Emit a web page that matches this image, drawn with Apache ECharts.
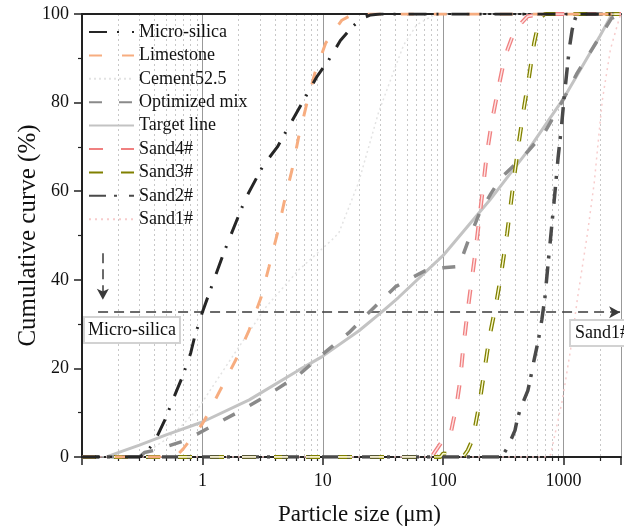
<!DOCTYPE html>
<html>
<head>
<meta charset="utf-8">
<script src="https://cdn.jsdelivr.net/npm/echarts@6/dist/echarts.min.js"></script>
<style>
html, body { margin: 0; padding: 0; background: #fff; }
#chart { width: 624px; height: 532px; }
</style>
</head>
<body>
<div id="chart"></div>
<script>
// particle size (um), cumulative passing (%)
var microSilica = [[0.1,0],[0.3,0],[0.34,1],[0.4,3.4],[0.5,9],[0.57,13],[0.68,18],[0.8,23.5],[0.86,27],[1,32.7],[1.5,46],[2,54.5],[2.3,58.5],[3.2,65.8],[4.2,70],[5.2,74.5],[7.2,81.3],[9,86],[11.2,89.6],[14,94],[17.4,97],[21,99],[25,99.8],[30,100],[3000,100]];
var limestone = [[0.1,0],[0.6,0],[0.7,2],[0.8,4],[1,7.5],[1.1,9.5],[1.4,15],[1.9,22],[2.45,28.7],[3.07,36],[3.58,43],[4.2,50.5],[4.76,57.3],[5.55,64.8],[6.3,72.2],[7.4,80],[8.6,86.7],[10.6,93.5],[14.4,98.6],[18,100],[3000,100]];
var cement = [[0.1,0],[0.3,0],[0.5,4],[0.7,7.5],[0.94,11.3],[1.77,22.6],[3.38,33.9],[6.3,42.2],[11.9,49],[13.6,50.6],[19.8,61.9],[29,77.7],[40,88],[47,93],[60,97.5],[80,99.5],[100,100],[3000,100]];
var optimizedMix = [[0.1,0],[0.3,0],[0.33,1],[0.4,1.5],[0.7,3.6],[1,5.8],[1.2,7],[2,10.2],[3.5,14],[6.3,18.5],[9.8,23],[16.4,28],[25.4,33.2],[40,38.4],[70,42],[100,42.7],[135,43],[160,48.5],[200,55],[250,59.5],[302,63],[477,68.2],[700,73.4],[942,79.5],[1300,86.7],[1850,93.4],[2500,99],[3000,100]];
var targetLine = [[0.16,0],[0.2,1],[0.3,2.7],[0.5,5],[1,7.9],[2.45,12.9],[6.3,19.6],[9.8,22.6],[20,28.5],[30.8,32.7],[42.5,36],[100,45.5],[244,58],[500,69],[1020,81.3],[2000,95],[2450,99.3],[2550,100]];
var sand4 = [[0.1,0],[80,0],[96,3.2],[114,4.5],[121,8],[128,11],[138,17],[146,24],[158,32],[170,38.6],[184,45.6],[198,53],[214,60.7],[231,68.6],[254,75.8],[285,82.8],[325,90.3],[394,96.4],[504,99.5],[670,100],[3000,100]];
var sand3 = [[0.1,0],[95,0],[100,0.8],[150,0.4],[160,1.5],[172,3.4],[184,6.8],[200,12],[220,19.5],[242,27],[275,34.5],[300,40.5],[340,50.5],[390,63.5],[428,71.5],[470,79],[518,86],[570,93.5],[630,99],[700,100],[3000,100]];
var sand2 = [[0.1,0],[300,0],[315,0.5],[345,2.3],[395,6],[415,8.8],[440,11],[505,15],[530,17.6],[570,22],[620,26.6],[660,31],[700,36],[740,43],[790,51],[850,60],[900,67.5],[960,74.5],[1010,81],[1070,87.5],[1120,92.5],[1180,96.5],[1250,99],[1300,100],[3000,100]];
var sand1 = [[0.1,0],[700,0],[780,0.5],[980,13],[1140,24],[1300,35.5],[1580,50.5],[1800,62],[1970,73],[2100,80.6],[2450,92],[2900,99],[3000,100]];

var legendNames = ['Micro-silica', 'Limestone', 'Cement52.5', 'Optimized mix', 'Target line', 'Sand4#', 'Sand3#', 'Sand2#', 'Sand1#'];
var majorTicks = [1, 10, 100, 1000];
var minorTicks = [0.2,0.3,0.4,0.5,0.6,0.7,0.8,0.9, 2,3,4,5,6,7,8,9, 20,30,40,50,60,70,80,90, 200,300,400,500,600,700,800,900, 2000];
var refLevel = 32.7;

var serif = '"Liberation Serif", "Times New Roman", serif';

function lineSeries(name, data, color, width, dash, z) {
    return {
        name: name,
        type: 'line',
        data: data,
        symbol: 'none',
        smooth: false,
        z: z,
        itemStyle: { color: color },
        lineStyle: { color: color, width: width, type: dash },
        emphasis: { disabled: true }
    };
}

var myChart = echarts.init(document.getElementById('chart'));

var series = [
    lineSeries('Micro-silica', microSilica, '#262626', 3, [18, 10, 2, 13], 10),
    lineSeries('Limestone', limestone, '#f7ad80', 3, [13, 20], 9),
    lineSeries('Cement52.5', cement, '#e3e3e3', 1.5, [2, 3], 3),
    lineSeries('Optimized mix', optimizedMix, '#8a8a8a', 3.5, [13, 17], 6),
    lineSeries('Target line', targetLine, '#c3c3c3', 3, 'solid', 5),
    lineSeries('Sand4#', sand4, '#f08080', 4, [14, 18], 7),
    lineSeries('Sand3#', sand3, '#808000', 4, [14, 18], 7),
    lineSeries('Sand2#', sand2, '#4a4a4a', 3.5, [17, 8, 3, 12], 8),
    lineSeries('Sand1#', sand1, '#f7cccc', 1.5, [2, 4], 3)
];
// light core for the hollow-looking sand curves
var core4 = lineSeries('s4core', sand4, '#fde4e4', 1.4, [14, 18], 8);
var core3 = lineSeries('s3core', sand3, '#fbfbd0', 1.4, [14, 18], 8);
series.push(core4, core3);

// dashed reference arrows
series[0].markLine = {
    silent: true,
    symbol: ['none', 'arrow'],
    symbolSize: [9, 11],
    label: { show: false },
    lineStyle: { color: '#3a3a3a', width: 1.5, type: [10, 6] },
    data: [
        [{ coord: [0.136, refLevel] }, { coord: [2950, refLevel] }],
        [{ coord: [0.149, 46] }, { coord: [0.149, 35.5] }]
    ]
};

var option = {
    animation: false,
    backgroundColor: '#fff',
    grid: { left: 82, right: 0, top: 14, bottom: 75, containLabel: false },
    legend: {
        data: legendNames,
        orient: 'vertical',
        left: 88,
        top: 23,
        padding: 0,
        itemWidth: 45,
        itemHeight: 14,
        itemGap: 5.4,
        itemStyle: { color: 'rgba(0,0,0,0)', borderWidth: 0, opacity: 0 },
        textStyle: { fontFamily: serif, fontSize: 18, color: '#111', lineHeight: 18 },
        selectedMode: false
    },
    xAxis: [
        {
            type: 'log',
            logBase: 10,
            min: 0.1,
            max: 3000,
            position: 'bottom',
            name: 'Particle size (μm)',
            nameLocation: 'middle',
            nameGap: 46,
            nameMoveOverlap: false,
            nameTextStyle: { fontFamily: serif, fontSize: 23, color: '#111', padding: [0, 0, 0, 16] },
            axisLine: { onZero: false, lineStyle: { color: '#222', width: 2 } },
            axisTick: { length: 8, lineStyle: { color: '#222', width: 1.5 } },
            axisLabel: {
                margin: 15,
                fontFamily: serif,
                fontSize: 18,
                color: '#111',
                formatter: function (v) { return majorTicks.indexOf(v) >= 0 ? String(v) : ''; }
            },
            splitLine: { show: true, lineStyle: { color: '#999', width: 1 } }
        },
        {
            type: 'log',
            logBase: 10,
            min: 0.1,
            max: 3000,
            position: 'bottom',
            axisLine: { show: false, onZero: false },
            axisTick: { customValues: minorTicks, length: 4, lineStyle: { color: '#222', width: 1.2 } },
            axisLabel: { show: false },
            splitLine: { show: true, lineStyle: { color: '#c8c8c8', width: 1, type: [2, 3] } }
        },
        {
            type: 'log',
            logBase: 10,
            min: 0.1,
            max: 3000,
            position: 'top',
            axisLine: { onZero: false, lineStyle: { color: '#222', width: 2 } },
            axisTick: { show: false },
            axisLabel: { show: false },
            splitLine: { show: false }
        }
    ],
    yAxis: {
        type: 'value',
        min: 0,
        max: 100,
        interval: 20,
        name: 'Cumulative curve (%)',
        nameLocation: 'middle',
        nameGap: 41,
        nameMoveOverlap: false,
        nameTextStyle: { fontFamily: serif, fontSize: 25, color: '#111' },
        axisLine: { show: true, lineStyle: { color: '#222', width: 2 } },
        axisTick: { show: true, length: 8, lineStyle: { color: '#222', width: 1.5 } },
        minorTick: { show: true, splitNumber: 2, length: 4, lineStyle: { color: '#222', width: 1.2 } },
        axisLabel: { margin: 13, fontFamily: serif, fontSize: 18, color: '#111' },
        splitLine: { show: false }
    },
    graphic: [
        {
            type: 'text',
            left: 83,
            top: 316,
            z: 100,
            style: {
                text: 'Micro-silica',
                font: '18px ' + serif,
                fill: '#111',
                backgroundColor: '#fff',
                borderColor: '#d2d2d2',
                borderWidth: 2,
                padding: [3, 3, 3, 3]
            }
        },
        {
            type: 'text',
            left: 569,
            top: 319,
            z: 100,
            style: {
                text: 'Sand1#',
                font: '18px ' + serif,
                fill: '#111',
                backgroundColor: '#fff',
                borderColor: '#d2d2d2',
                borderWidth: 2,
                padding: [3, 6, 3, 4]
            }
        }
    ],
    series: series
};

myChart.setOption(option);
</script>
</body>
</html>
